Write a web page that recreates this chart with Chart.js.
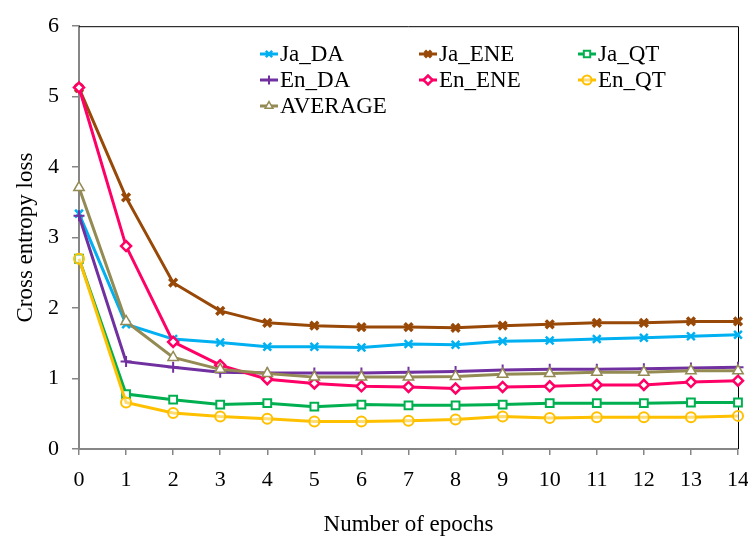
<!DOCTYPE html>
<html>
<head>
<meta charset="utf-8">
<script src="https://cdn.jsdelivr.net/npm/chart.js@4/dist/chart.umd.min.js"></script>
<style>
  html, body { margin: 0; padding: 0; background: #fff; }
  #wrap { width: 748px; height: 536px; }
</style>
</head>
<body>
<div id="wrap"><canvas id="loss-chart" width="748" height="536"></canvas></div>
<script>
// epochs on the x axis
const epochs = ['0', '1', '2', '3', '4', '5', '6', '7', '8', '9', '10', '11', '12', '13', '14'];
const yTicks = [0, 1, 2, 3, 4, 5, 6];

// cross entropy loss per series
const jaDA  = [3.34, 1.77, 1.56, 1.51, 1.45, 1.45, 1.44, 1.49, 1.48, 1.53, 1.54, 1.56, 1.58, 1.60, 1.62];
const jaENE = [5.12, 3.57, 2.36, 1.96, 1.79, 1.75, 1.73, 1.73, 1.72, 1.75, 1.77, 1.79, 1.79, 1.81, 1.81];
const jaQT  = [2.70, 0.78, 0.70, 0.63, 0.65, 0.60, 0.63, 0.62, 0.62, 0.63, 0.65, 0.65, 0.65, 0.66, 0.66];
const enDA  = [3.31, 1.24, 1.16, 1.09, 1.08, 1.08, 1.08, 1.09, 1.10, 1.12, 1.13, 1.13, 1.14, 1.15, 1.16];
const enENE = [5.13, 2.88, 1.52, 1.19, 0.99, 0.93, 0.89, 0.88, 0.86, 0.88, 0.89, 0.91, 0.91, 0.95, 0.97];
const enQT  = [2.70, 0.66, 0.51, 0.46, 0.43, 0.39, 0.39, 0.40, 0.42, 0.46, 0.44, 0.45, 0.45, 0.45, 0.47];
const average = [3.71, 1.81, 1.30, 1.13, 1.07, 1.02, 1.02, 1.02, 1.03, 1.06, 1.07, 1.09, 1.09, 1.11, 1.11];

const FONT = 'Liberation Serif, Times New Roman, serif';
const AXIS_GREY = '#868686';

function series(label, data, color, style, extra) {
    return Object.assign({
        label: label,
        data: data,
        borderColor: color,
        backgroundColor: color,
        borderWidth: 3,
        tension: 0,
        pointStyle: style,
        pointRadius: 5.5,
        pointHoverRadius: 5.5,
        pointBorderColor: color,
        pointBackgroundColor: '#fff',
        pointBorderWidth: 2
    }, extra || {});
}

const datasets = [
    series('Ja_DA', jaDA, '#00B0F0', 'crossRot', { pointBorderWidth: 2.5 }),
    series('Ja_ENE', jaENE, '#984807', 'crossRot', { pointBorderWidth: 3.5 }),
    series('Ja_QT', jaQT, '#00B050', 'rect', { pointRadius: 5.5 }),
    series('En_DA', enDA, '#7030A0', 'cross', { pointBorderWidth: 2 }),
    series('En_ENE', enENE, '#FF0066', 'rectRot', { pointRadius: 5, pointBorderWidth: 2.5 }),
    series('En_QT', enQT, '#FFC000', 'circle', { pointRadius: 5, pointBackgroundColor: 'rgba(255,255,255,0.45)' }),
    series('AVERAGE', average, '#948A54', 'triangle', { pointRadius: 6, pointBorderWidth: 1.5 })
];
// later series sit on top, like the original
datasets.forEach((d, i) => { d.order = datasets.length - i; });

// legend drawn inside the plot in three columns
const legendPlugin = {
    id: 'gridLegend',
    afterDraw(chart) {
        const ctx = chart.ctx;
        const cols = [260, 419, 578];
        const rows = [54, 80, 106];
        ctx.save();
        chart.data.datasets.forEach((ds, i) => {
            const x = cols[i % 3];
            const y = rows[Math.floor(i / 3)];
            ctx.strokeStyle = ds.borderColor;
            ctx.lineWidth = 3;
            ctx.beginPath();
            ctx.moveTo(x, y);
            ctx.lineTo(x + 18, y);
            ctx.stroke();
            ctx.fillStyle = ds.pointBackgroundColor;
            ctx.strokeStyle = ds.pointBorderColor;
            ctx.lineWidth = ds.pointBorderWidth;
            Chart.helpers.drawPoint(ctx, {
                pointStyle: ds.pointStyle,
                radius: Math.min(ds.pointRadius, 4.5),
                rotation: 0,
                borderWidth: ds.pointBorderWidth
            }, x + 9, y);
            ctx.fillStyle = '#000';
            ctx.font = '23px ' + FONT;
            ctx.textBaseline = 'middle';
            ctx.textAlign = 'left';
            ctx.fillText(ds.label, x + 20, y + 1);
        });
        ctx.restore();
    }
};

// black top and right frame lines
const framePlugin = {
    id: 'frame',
    beforeDatasetsDraw(chart) {
        const a = chart.chartArea;
        const ctx = chart.ctx;
        ctx.save();
        ctx.strokeStyle = '#000';
        ctx.lineWidth = 1;
        ctx.beginPath();
        ctx.moveTo(a.left, a.top + 0.5);
        ctx.lineTo(a.right + 0.5, a.top + 0.5);
        ctx.lineTo(a.right + 0.5, a.bottom);
        ctx.stroke();
        ctx.restore();
    }
};

const ctx = document.getElementById('loss-chart').getContext('2d');
new Chart(ctx, {
    type: 'line',
    data: { labels: epochs, datasets: datasets },
    options: {
        responsive: false,
        animation: false,
        devicePixelRatio: 1,
        layout: { padding: { top: 25, right: 0, bottom: 0, left: 0 } },
        plugins: {
            legend: { display: false },
            tooltip: { enabled: false }
        },
        scales: {
            x: {
                type: 'category',
                offset: false,
                afterFit: s => { s.height = 87; s.paddingRight = 10; s.paddingLeft = 0; },
                grid: { drawOnChartArea: false, drawTicks: true, tickLength: 6, color: AXIS_GREY, lineWidth: 1.5 },
                border: { display: true, color: AXIS_GREY, width: 2 },
                ticks: { color: '#000', font: { family: FONT, size: 22 }, padding: 12, maxRotation: 0, autoSkip: false },
                title: { display: true, text: 'Number of epochs', color: '#000', font: { family: FONT, size: 23, lineHeight: 1 }, padding: { top: 0, bottom: 0 } }
            },
            y: {
                min: 0,
                max: 6,
                afterFit: s => { s.width = 79; },
                afterBuildTicks: s => { s.ticks = yTicks.map(v => ({ value: v })); },
                grid: { drawOnChartArea: false, drawTicks: true, tickLength: 7, color: AXIS_GREY, lineWidth: 1.5 },
                border: { display: true, color: AXIS_GREY, width: 2 },
                ticks: { color: '#000', font: { family: FONT, size: 22 }, padding: 13 },
                title: { display: true, text: 'Cross entropy loss', color: '#000', font: { family: FONT, size: 23 }, padding: { top: 12, bottom: 0 } }
            }
        }
    },
    plugins: [framePlugin, legendPlugin]
});
</script>
</body>
</html>
